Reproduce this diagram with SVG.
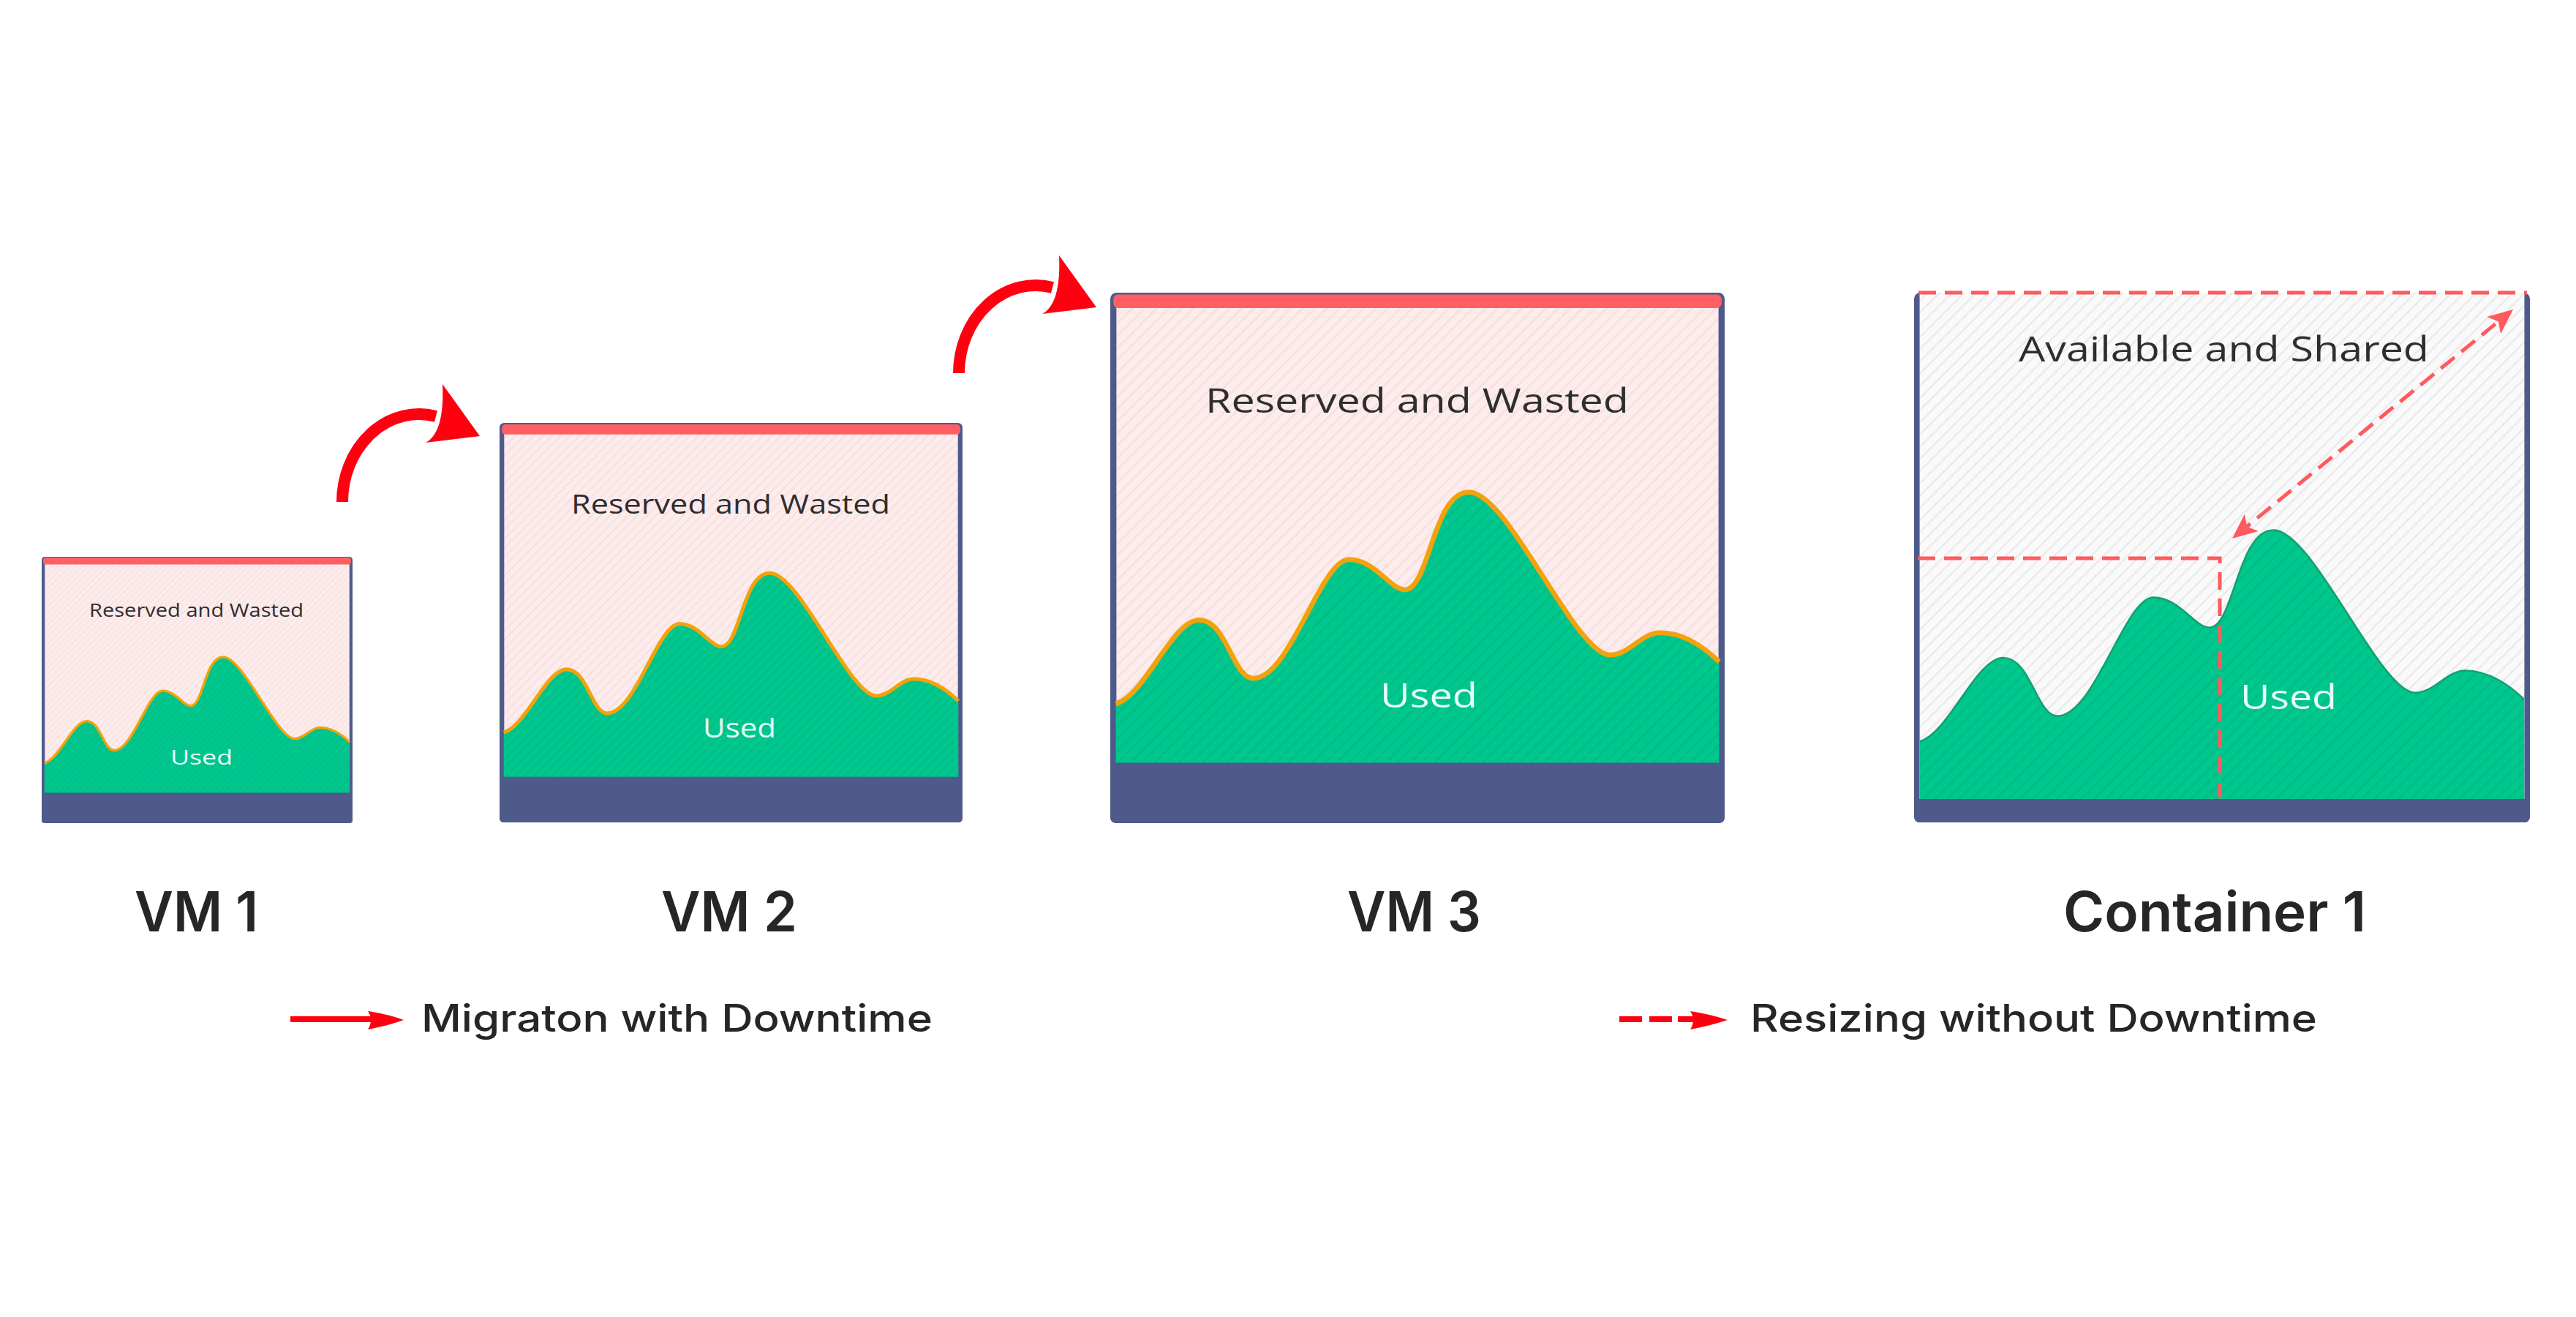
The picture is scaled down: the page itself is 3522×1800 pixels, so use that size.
<svg xmlns="http://www.w3.org/2000/svg" width="3522" height="1800" viewBox="0 0 3522 1800">
<style>
.box-t{font-family:"Open Sans","Liberation Sans",sans-serif;fill:#2e2e2e;text-anchor:middle}
.used-t{font-family:"Open Sans","Liberation Sans",sans-serif;fill:#e6fff6;text-anchor:middle}
.name{font-family:Inter,"Liberation Sans",sans-serif;font-weight:600;font-size:75px;fill:#262626}
.leg{font-family:Inter,"Liberation Sans",sans-serif;font-weight:500;font-size:52px;fill:#262626}
.mig{fill:#ff0010}
.migshaft{fill:none;stroke:#ff0010;stroke-width:16}
.dash{fill:none;stroke:#ff5a5e;stroke-width:5;stroke-dasharray:24 12}
</style>
<defs>
<pattern id="pinkHatch" patternUnits="userSpaceOnUse" width="14" height="14" patternTransform="rotate(45)">
<rect width="14" height="14" fill="#fdecec"/>
<rect width="3" height="14" fill="#f8dfdf"/>
</pattern>
<pattern id="greenHatch" patternUnits="userSpaceOnUse" width="14" height="14" patternTransform="rotate(45)">
<rect width="3" height="14" fill="#00a874" fill-opacity="0.35"/>
</pattern>
<pattern id="grayHatch" patternUnits="userSpaceOnUse" width="14" height="14" patternTransform="rotate(45)">
<rect width="14" height="14" fill="#fafafa"/>
<rect width="3" height="14" fill="#ebebeb"/>
</pattern>
<path id="curveLine" d="M 9 666.5 C 56.3 653.6 100.7 530.6 145 530.6 C 189.4 530.6 199.3 625.2 232.8 625.2 C 293 625.2 342.2 432.6 388.6 432.6 C 431 432.6 455.6 481.6 479.3 481.6 C 519.7 481.6 524.7 323.4 583.8 323.4 C 647.9 323.4 756.4 587.4 813.5 587.4 C 845.1 587.4 864.8 551.3 894.4 551.3 C 933.8 551.3 968.4 576.2 991 598.6"/>
<path id="curveArea" d="M 9 666.5 C 56.3 653.6 100.7 530.6 145 530.6 C 189.4 530.6 199.3 625.2 232.8 625.2 C 293 625.2 342.2 432.6 388.6 432.6 C 431 432.6 455.6 481.6 479.3 481.6 C 519.7 481.6 524.7 323.4 583.8 323.4 C 647.9 323.4 756.4 587.4 813.5 587.4 C 845.1 587.4 864.8 551.3 894.4 551.3 C 933.8 551.3 968.4 576.2 991 598.6 L 991 860 L 9 860 Z"/>
<clipPath id="cclip"><rect x="9" y="0" width="982" height="824"/></clipPath>
<symbol id="vm" viewBox="0 0 1000 860" preserveAspectRatio="none">
<rect width="1000" height="860" rx="10" fill="#4d5a8a"/>
<rect x="10" y="4" width="980" height="760" fill="url(#pinkHatch)"/>
<use href="#curveArea" fill="#00c78d"/>
<use href="#curveArea" fill="url(#greenHatch)"/>
<use href="#curveLine" fill="none" stroke="#f2a20c" stroke-width="8"/>
<path d="M0 762 H1000 V850 Q1000 860 990 860 H10 Q0 860 0 850 Z" fill="#4d5a8a"/>
<rect x="5" y="3" width="990" height="22" rx="8" fill="#ff5f63"/>
</symbol>
<g id="migArrow">
<path class="migshaft" d="M 0 0 A 105 120 0 0 1 128 -117"/>
<path class="mig" d="M 114 -81 Q 140 -95 137 -161 L 188 -90 Z"/>
</g>
<marker id="dh" markerUnits="userSpaceOnUse" markerWidth="40" markerHeight="34" refX="28" refY="17" orient="auto-start-reverse" overflow="visible">
<path d="M36 17 L2 2 L10 17 L2 32 Z" fill="#ff5a5e"/>
</marker>
</defs>
<rect width="3522" height="1800" fill="#ffffff"/>

<g id="vm1">
<use href="#vm" x="57" y="761" width="425" height="364"/>
<text class="box-t" x="268.5" y="843" font-size="25" textLength="293" lengthAdjust="spacingAndGlyphs">Reserved and Wasted</text>
<text class="used-t" x="275.5" y="1045" font-size="28" textLength="85" lengthAdjust="spacingAndGlyphs">Used</text>
<text class="name" x="184" y="1273" textLength="169" lengthAdjust="spacingAndGlyphs">VM 1</text>
</g>

<g id="vm2">
<use href="#vm" x="683" y="578" width="633" height="546"/>
<text class="box-t" x="999" y="702" font-size="37" textLength="436" lengthAdjust="spacingAndGlyphs">Reserved and Wasted</text>
<text class="used-t" x="1011" y="1008" font-size="37" textLength="100" lengthAdjust="spacingAndGlyphs">Used</text>
<text class="name" x="904" y="1273" textLength="186" lengthAdjust="spacingAndGlyphs">VM 2</text>
</g>

<g id="vm3">
<use href="#vm" x="1518" y="400" width="840" height="725"/>
<text class="box-t" x="1937.5" y="564" font-size="46" textLength="579" lengthAdjust="spacingAndGlyphs">Reserved and Wasted</text>
<text class="used-t" x="1953.5" y="967" font-size="46" textLength="133" lengthAdjust="spacingAndGlyphs">Used</text>
<text class="name" x="1842" y="1273" textLength="183" lengthAdjust="spacingAndGlyphs">VM 3</text>
</g>

<g id="container1">
<g transform="translate(2617 400) scale(0.842)">
<rect width="1000" height="860" rx="10" fill="#4d5a8a"/>
<rect x="9" y="0" width="982" height="824" fill="url(#grayHatch)"/>
<g clip-path="url(#cclip)">
<use href="#curveArea" transform="translate(0 62)" fill="#00c78d"/>
<use href="#curveArea" transform="translate(0 62)" fill="url(#greenHatch)"/>
<use href="#curveLine" transform="translate(0 62)" fill="none" stroke="#12a072" stroke-width="3"/>
</g>
<path d="M0 822 H1000 V850 Q1000 860 990 860 H10 Q0 860 0 850 Z" fill="#4d5a8a"/>
</g>
<path class="dash" d="M 2623 400 H 3455"/>
<path class="dash" d="M 2622 763 H 3035 V 1091"/>
<path class="dash" d="M 3058.2 730.9 L 3429.8 428.1" marker-start="url(#dh)" marker-end="url(#dh)"/>
<text class="box-t" x="3040.5" y="494" font-size="47" textLength="561" lengthAdjust="spacingAndGlyphs">Available and Shared</text>
<text class="used-t" x="3129" y="969" font-size="46" textLength="132" lengthAdjust="spacingAndGlyphs">Used</text>
<text class="name" x="2821" y="1273" textLength="414" lengthAdjust="spacingAndGlyphs">Container 1</text>
</g>

<g id="connectors">
<use href="#migArrow" transform="translate(468 686)"/>
<use href="#migArrow" transform="translate(1311 510)"/>
</g>

<g id="legend">
<rect class="mig" x="397" y="1389" width="110" height="8"/>
<path class="mig" d="M503 1382 Q 530 1386 552 1394 Q 530 1402 503 1407 Q 511 1394 503 1382 Z"/>
<text class="leg" x="576" y="1410" textLength="699" lengthAdjust="spacingAndGlyphs">Migraton with Downtime</text>
<rect class="mig" x="2214" y="1389" width="31" height="8"/>
<rect class="mig" x="2255" y="1389" width="31" height="8"/>
<rect class="mig" x="2294" y="1389" width="22" height="8"/>
<path class="mig" d="M2311 1382 Q 2338 1386 2362 1394 Q 2338 1402 2311 1407 Q 2319 1394 2311 1382 Z"/>
<text class="leg" x="2393" y="1410" textLength="775" lengthAdjust="spacingAndGlyphs">Resizing without Downtime</text>
</g>
</svg>
